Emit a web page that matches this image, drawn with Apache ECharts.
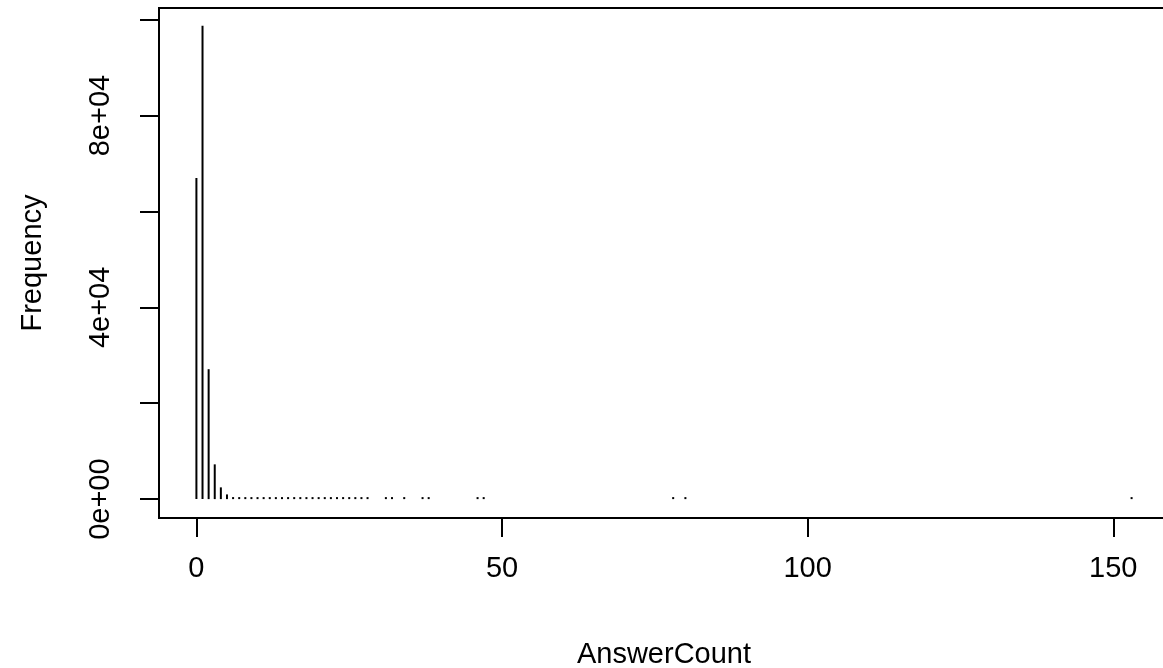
<!DOCTYPE html>
<html>
<head>
<meta charset="utf-8">
<script src="https://cdn.jsdelivr.net/npm/echarts@6/dist/echarts.min.js"></script>
<style>
  html, body { margin: 0; padding: 0; background: #fff; overflow: hidden; }
  #chart { width: 1163px; height: 668px; }
</style>
</head>
<body>
<div id="chart"></div>
<script>
// answer counts and how often each occurs
var answerCounts = [0, 1, 2, 3, 4, 5, 6, 7, 8, 9, 10, 11, 12, 13, 14, 15, 16, 17, 18, 19, 20,
	21, 22, 23, 24, 25, 26, 27, 28, 31, 32, 34, 37, 38, 46, 47, 78, 80, 153];
var frequencies = [67000, 98750, 27100, 7250, 2450, 980, 420, 230, 140, 90, 60, 45, 32, 25, 20, 15, 12, 10, 8, 6, 5,
	4, 3, 3, 2, 2, 2, 1, 1, 1, 1, 1, 1, 1, 1, 1, 1, 1, 1];
var xTicks = [0, 50, 100, 150];
var yTicks = [0, 20000, 40000, 60000, 80000, 100000];
var yLabels = [0, 40000, 80000];

var fontFamily = '"Liberation Sans", Arial, Helvetica, sans-serif';
var fontSize = 29;

function sciLabel(v){
	if(v === 0){
		return '0e+00';
	}
	var exp = Math.floor(Math.log10(v));
	var mant = Math.round(v / Math.pow(10, exp));
	return mant + 'e+' + (exp < 10 ? '0' : '') + exp;
}

var points = [];
for(var i = 0; i < answerCounts.length; i++){
	points.push([answerCounts[i], frequencies[i]]);
}

var chart = echarts.init(document.getElementById('chart'));
chart.setOption({
	animation: false,
	backgroundColor: '#fff',
	grid: {
		left: 159, right: -6, top: 8, bottom: 150,
		outerBoundsMode: 'none',
		show: true, borderColor: '#000', borderWidth: 2, backgroundColor: 'transparent'
	},
	xAxis: {
		type: 'value',
		min: -6.12, max: 159.12,
		name: 'AnswerCount',
		nameLocation: 'middle',
		nameGap: 122,
		nameTextStyle: { color: '#000', fontSize: fontSize, fontFamily: fontFamily },
		splitLine: { show: false },
		axisLine: { show: false, onZero: false },
		axisTick: { show: true, inside: false, length: 19, customValues: xTicks, lineStyle: { color: '#000', width: 2 } },
		axisLabel: { customValues: xTicks, margin: 36, color: '#000', fontSize: fontSize, fontFamily: fontFamily }
	},
	yAxis: {
		type: 'value',
		min: -3940, max: 102440,
		name: 'Frequency',
		nameLocation: 'middle',
		nameGap: 112,
		nameRotate: 90,
		nameTextStyle: { color: '#000', fontSize: fontSize, fontFamily: fontFamily },
		splitLine: { show: false },
		axisLine: { show: false, onZero: false },
		axisTick: { show: true, inside: false, length: 19, customValues: yTicks, lineStyle: { color: '#000', width: 2 } },
		axisLabel: {
			customValues: yLabels, rotate: 90, margin: 44, color: '#000', fontSize: fontSize, fontFamily: fontFamily,
			formatter: function(v){ return sciLabel(v); }
		}
	},
	series: [{
		type: 'bar',
		data: points,
		barWidth: 2,
		barMinHeight: 2,
		itemStyle: { color: '#000' }
	}]
});
</script>
</body>
</html>
